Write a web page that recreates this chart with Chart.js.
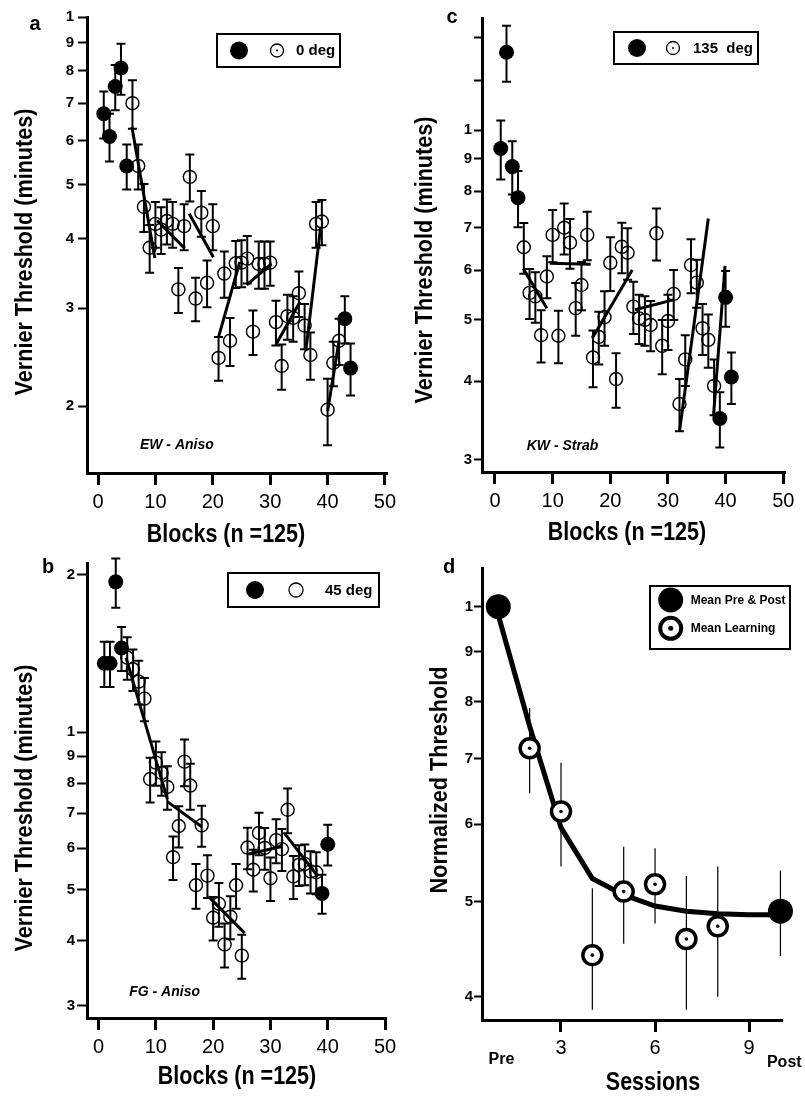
<!DOCTYPE html>
<html><head><meta charset="utf-8">
<script src="https://cdn.jsdelivr.net/npm/chart.js@4.4.1/dist/chart.umd.min.js"></script>
<style>
html,body{margin:0;padding:0;background:#fff;}
#wrap{position:relative;width:805px;height:1096px;background:#fff;}
.p{position:absolute;}
canvas{display:block;}
</style></head><body>
<div id="wrap">
<div class="p" style="left:0;top:0;width:402px;height:550px"><canvas id="ca" width="402" height="550"></canvas></div>
<div class="p" style="left:402px;top:0;width:403px;height:550px"><canvas id="cc" width="403" height="550"></canvas></div>
<div class="p" style="left:0;top:550px;width:402px;height:546px"><canvas id="cb" width="402" height="546"></canvas></div>
<div class="p" style="left:402px;top:550px;width:403px;height:546px"><canvas id="cd" width="403" height="546"></canvas></div>
</div>
<script>
// ---------- DATA ----------
const blockTicks = [0, 10, 20, 30, 40, 50];
const blocksTitle = 'Blocks (n =125)';
const threshTitle = 'Vernier Threshold (minutes)';

// Panel a (EW - Aniso, 0 deg)
const aTickVals   = [2, 3, 4, 5, 6, 7, 8, 9, 10];
const aTickLabels = ['2','3','4','5','6','7','8','9','1'];
const aFilledX   = [1, 2, 3, 4, 5, 43, 44];
const aFilledY   = [6.7, 6.1, 7.5, 8.1, 5.4, 2.87, 2.34];
const aFilledErr = [0.65, 0.6, 0.7, 0.85, 0.5, 0.28, 0.25];
const aOpenX = [6,7,8,9,10,11,12,13,14,15,16,17,18,19,20,21,22,23,24,25,26,27,28,29,30,31,32,33,34,35,36,37,38,39,40,41,42];
const aOpenY = [7.0,5.4,4.56,3.85,4.25,4.15,4.3,4.25,3.24,4.21,5.16,3.12,4.45,3.33,4.21,2.44,3.46,2.62,3.61,3.62,3.68,2.72,3.6,3.6,3.62,2.83,2.36,2.9,2.88,3.19,2.79,2.47,4.25,4.29,1.97,2.39,2.62];
const aOpenErr = [0.7,0.5,0.45,0.38,0.4,0.4,0.4,0.4,0.3,0.4,0.5,0.28,0.42,0.32,0.4,0.22,0.33,0.26,0.35,0.35,0.36,0.25,0.35,0.35,0.33,0.26,0.22,0.27,0.27,0.3,0.26,0.24,0.4,0.4,0.27,0.22,0.25];
const aFits = [[5.9,6.35,9.9,3.69],[10.3,4.31,15.1,3.84],[15.9,4.43,20.1,3.7],[21,2.66,24.7,3.63],[25.9,3.3,30.2,3.6],[31.1,2.59,35.2,3.08],[36.2,2.51,38.8,4.2],[40,1.96,42,2.62]];

// Panel c (KW - Strab, 135 deg)
const cTickVals   = [3, 4, 5, 6, 7, 8, 9, 10, 12, 14];
const cTickLabels = ['3','4','5','6','7','8','9','1','',''];
const cFilledX   = [1, 2, 3, 4, 39, 40, 41];
const cFilledY   = [9.35, 13.28, 8.75, 7.81, 3.49, 5.43, 4.06];
const cFilledErr = [1.0, 1.35, 0.85, 0.8, 0.35, 0.55, 0.38];
const cOpenX = [5,6,7,8,9,10,11,12,13,14,15,16,17,18,19,20,21,22,23,24,25,26,27,28,29,30,31,32,33,34,35,36,37,38];
const cOpenY = [6.52,5.52,5.45,4.73,5.86,6.82,4.72,7.0,6.63,5.22,5.68,6.82,4.36,4.7,5.05,6.16,4.03,6.53,6.39,5.25,5.03,5.0,4.91,6.86,4.55,4.98,5.5,3.68,4.33,6.11,5.73,4.85,4.65,3.93];
const cOpenErr = [0.6,0.5,0.5,0.45,0.45,0.65,0.45,0.65,0.6,0.5,0.5,0.6,0.45,0.45,0.5,0.6,0.4,0.6,0.6,0.5,0.45,0.45,0.45,0.65,0.45,0.5,0.5,0.35,0.4,0.6,0.5,0.45,0.45,0.4];
const cFits = [[4.9,6.03,9,5.22],[9.5,6.15,16.6,6.13],[16.9,4.68,23.8,6.0],[24.3,5.19,30.9,5.38],[32,3.33,37,7.24],[37.9,3.53,39.9,6.09]];

// Panel b (FG - Aniso, 45 deg)
const bTickVals   = [3, 4, 5, 6, 7, 8, 9, 10, 20];
const bTickLabels = ['3','4','5','6','7','8','9','1','2'];
const bFilledX   = [1, 2, 3, 4, 39, 40];
const bFilledY   = [13.56, 13.56, 19.4, 14.5, 4.92, 6.11];
const bFilledErr = [1.35, 1.35, 2.1, 1.4, 0.42, 0.55];
const bOpenX = [5,6,7,8,9,10,11,12,13,14,15,16,17,18,19,20,21,22,23,24,25,26,27,28,29,30,31,32,33,34,35,36,37,38];
const bOpenY = [13.9,13.2,12.5,11.6,8.14,8.75,8.36,7.86,5.77,6.62,8.79,7.91,5.1,6.64,5.32,4.42,4.7,3.93,4.44,5.1,3.74,6.02,5.46,6.42,6.01,5.26,6.22,5.98,7.11,5.3,5.58,5.6,5.42,5.4];
const bOpenErr = [1.3,1.2,1.2,1.1,0.8,0.85,0.8,0.75,0.55,0.6,0.9,0.8,0.5,0.6,0.5,0.42,0.45,0.38,0.42,0.5,0.36,0.55,0.5,0.6,0.55,0.5,0.6,0.55,0.7,0.5,0.5,0.5,0.5,0.5];
const bFits = [[4.8,13.9,12,7.45],[12,7.37,18,6.6],[19.2,4.85,25.5,4.13],[26.2,5.85,32,6.05],[32.5,6.4,38.3,5.3]];

// Panel d (normalized, sessions)
const dTickVals   = [0.4, 0.5, 0.6, 0.7, 0.8, 0.9, 1.0];
const dTickLabels = ['4','5','6','7','8','9','1'];
const dSessionTicks = [3, 6, 9];
const dPrePostX  = [1, 10];
const dPrePostY  = [1.0, 0.489];
const dPrePostHi = [0.012, 0.049];
const dPrePostLo = [0.01, 0.049];
const dLearnX  = [2, 3, 4, 5, 6, 7, 8];
const dLearnY  = [0.717, 0.618, 0.441, 0.512, 0.521, 0.458, 0.472];
const dLearnHi = [0.071, 0.075, 0.075, 0.057, 0.046, 0.073, 0.071];
const dLearnLo = [0.072, 0.075, 0.053, 0.059, 0.046, 0.07, 0.072];
const dFitX = [1, 2, 3, 4, 5, 6, 7, 8, 9, 10];
const dFitY = [0.98, 0.755, 0.595, 0.528, 0.508, 0.495, 0.489, 0.486, 0.485, 0.485];

// ---------- HELPERS ----------
const SANS = "'Liberation Sans', Arial, sans-serif";
Chart.defaults.font.family = SANS;
Chart.defaults.color = '#000';
Chart.defaults.animation = false;

const pts = (xs, ys) => xs.map((x, i) => ({x: x, y: ys[i]}));

function fixFit(w, h) {
  return function (s) {
    if (w != null) s.width = w;
    if (h != null) s.height = h;
    s.paddingLeft = 0; s.paddingRight = 0; s.paddingTop = 0; s.paddingBottom = 0;
  };
}

function xScale(min, max, tickVals, height, tickPad, title) {
  return {
    type: 'linear', position: 'bottom', min: min, max: max,
    afterBuildTicks: s => { s.ticks = tickVals.map(v => ({value: v})); },
    afterFit: fixFit(null, height),
    border: {display: true, color: '#000', width: 3},
    grid: {display: true, drawOnChartArea: false, drawTicks: true, tickLength: 12, tickWidth: 3, tickColor: '#000'},
    ticks: {font: {family: SANS, size: 20, lineHeight: 1}, padding: tickPad, color: '#000', maxRotation: 0, autoSkip: false},
    title: {display: false, text: title}
  };
}

function yScale(min, max, tickVals, tickLabels, width, tl, tickPad, title) {
  return {
    type: 'logarithmic', position: 'left', min: min, max: max,
    afterBuildTicks: s => { s.ticks = tickVals.map(v => ({value: v})); },
    afterFit: fixFit(width, null),
    border: {display: true, color: '#000', width: 3},
    grid: {display: true, drawOnChartArea: false, drawTicks: true, tickLength: tl, tickWidth: 2, tickColor: '#000'},
    ticks: {font: {family: SANS, size: 15, weight: 'bold', lineHeight: 1}, padding: tickPad, color: '#000', autoSkip: false,
      callback: v => { const k = tickVals.findIndex(t => Math.abs(t - v) < 1e-9); return k >= 0 ? tickLabels[k] : ''; }},
    title: {display: false, text: title}
  };
}

function fitSets(fits, width) {
  return fits.map(s => ({data: [{x: s[0], y: s[1]}, {x: s[2], y: s[3]}], showLine: true, borderColor: '#000', borderWidth: width, pointRadius: 0, clip: false}));
}

const errorBarsPlugin = {
  id: 'errorBars',
  beforeDatasetsDraw(chart) {
    const ctx = chart.ctx, xs = chart.scales.x, ys = chart.scales.y;
    ctx.save();
    chart.data.datasets.forEach(ds => {
      if (!ds.errHi) return;
      ctx.strokeStyle = '#000'; ctx.lineWidth = ds.errWidth || 2; ctx.lineCap = 'butt';
      ds.data.forEach((p, j) => {
        const px = xs.getPixelForValue(p.x);
        const yT = ys.getPixelForValue(p.y + ds.errHi[j]);
        const yB = ys.getPixelForValue(p.y - ds.errLo[j]);
        ctx.beginPath();
        ctx.moveTo(px, yT); ctx.lineTo(px, yB);
        if (ds.errCap) {
          ctx.moveTo(px - ds.errCap, yT); ctx.lineTo(px + ds.errCap, yT);
          ctx.moveTo(px - ds.errCap, yB); ctx.lineTo(px + ds.errCap, yB);
        }
        ctx.stroke();
      });
    });
    ctx.restore();
  }
};

// axis titles (condensed bold, drawn from each scale's title text) + panel decorations
const decoPlugin = {
  id: 'deco',
  afterDraw(chart, args, o) {
    if (!o) return;
    const ctx = chart.ctx, xs = chart.scales.x, ys = chart.scales.y;
    ctx.save();
    ctx.fillStyle = '#000'; ctx.strokeStyle = '#000';
    const drawTitle = (text, t, rot) => {
      ctx.save();
      ctx.translate(t.x, t.y);
      if (rot) ctx.rotate(-Math.PI / 2);
      ctx.scale(t.sx, 1);
      ctx.font = 'bold ' + t.size + 'px ' + SANS; ctx.textAlign = 'center'; ctx.textBaseline = 'middle';
      ctx.fillText(text, 0, 0);
      ctx.restore();
    };
    if (o.xTitle) drawTitle(xs.options.title.text, o.xTitle, false);
    if (o.yTitle) drawTitle(ys.options.title.text, o.yTitle, true);
    if (o.letter) {
      ctx.font = 'bold 20px ' + SANS; ctx.textAlign = 'center'; ctx.textBaseline = 'middle';
      ctx.fillText(o.letter.text, o.letter.x, o.letter.y);
    }
    if (o.subject) {
      ctx.font = 'italic bold 14px ' + SANS; ctx.textAlign = 'left'; ctx.textBaseline = 'middle';
      ctx.fillText(o.subject.text, xs.getPixelForValue(o.subject.x), ys.getPixelForValue(o.subject.y));
    }
    if (o.legend) {
      const L = o.legend;
      ctx.lineWidth = 2;
      ctx.strokeRect(L.box[0], L.box[1], L.box[2] - L.box[0], L.box[3] - L.box[1]);
      L.marks.forEach(m => {
        ctx.beginPath(); ctx.arc(m.x, m.y, m.r, 0, 2 * Math.PI);
        if (m.fill) { ctx.fillStyle = '#000'; ctx.fill(); }
        else { ctx.fillStyle = '#fff'; ctx.fill(); ctx.lineWidth = m.lw; ctx.stroke(); ctx.fillStyle = '#000'; }
        if (m.dot) { ctx.beginPath(); ctx.arc(m.x, m.y, m.dot, 0, 2 * Math.PI); ctx.fill(); }
      });
      L.texts.forEach(t => {
        ctx.font = t.font; ctx.textAlign = 'left'; ctx.textBaseline = 'middle';
        ctx.fillText(t.text, t.x, t.y);
      });
    }
    if (o.axisNotes) {
      o.axisNotes.forEach(n => {
        ctx.font = n.font; ctx.textAlign = n.align; ctx.textBaseline = 'middle';
        ctx.fillText(n.text, xs.getPixelForValue(n.x), chart.chartArea.bottom + n.dy);
      });
    }
    ctx.restore();
  }
};
Chart.register(errorBarsPlugin, decoPlugin);

function blockChart(id, cfg) {
  const datasets = [].concat(
    [{data: pts(cfg.fx, cfg.fy), errHi: cfg.fe, errLo: cfg.fe, errCap: 4.5, errWidth: 2,
      pointRadius: 7.5, pointBackgroundColor: '#000', pointBorderColor: '#000', pointBorderWidth: 0, clip: false}],
    [{data: pts(cfg.ox, cfg.oy), errHi: cfg.oe, errLo: cfg.oe, errCap: 4.5, errWidth: 2,
      pointRadius: 6.5, pointBackgroundColor: 'rgba(0,0,0,0)', pointBorderColor: '#000', pointBorderWidth: 1.4, clip: false}],
    fitSets(cfg.fits, 3)
  );
  return new Chart(document.getElementById(id), {
    type: 'scatter',
    data: {datasets: datasets},
    options: {
      responsive: false, animation: false, events: [],
      layout: {padding: cfg.pad},
      scales: {
        x: xScale(cfg.xmin, cfg.xmax, blockTicks, cfg.xh, cfg.xtp, blocksTitle),
        y: yScale(cfg.ymin, cfg.ymax, cfg.tv, cfg.tl, cfg.yw, cfg.ytl, cfg.ytp, threshTitle)
      },
      plugins: {legend: {display: false}, tooltip: {enabled: false}, deco: cfg.deco}
    }
  });
}

// Panel a
blockChart('ca', {
  fx: aFilledX, fy: aFilledY, fe: aFilledErr, ox: aOpenX, oy: aOpenY, oe: aOpenErr, fits: aFits,
  pad: {left: 0, top: 17, right: 15, bottom: 0},
  xmin: -1.92, xmax: 50.35, xh: 77, xtp: 7,
  ymin: 1.516, ymax: 10, tv: aTickVals, tl: aTickLabels, yw: 87, ytl: 9, ytp: 4,
  deco: {
    xTitle: {x: 226, y: 535, size: 25, sx: 0.86},
    yTitle: {x: 25, y: 252, size: 24, sx: 0.9},
    letter: {text: 'a', x: 35, y: 24},
    subject: {text: 'EW - Aniso', x: 7.3, y: 1.70},
    legend: {box: [217, 34, 340, 67],
      marks: [{fill: true, x: 239, y: 50.5, r: 9}, {fill: false, x: 277, y: 50.5, r: 6.5, lw: 1.3, dot: 1}],
      texts: [{text: '0 deg', x: 296, y: 51, font: 'bold 15px ' + SANS}]}
  }
});

// Panel c
blockChart('cc', {
  fx: cFilledX, fy: cFilledY, fe: cFilledErr, ox: cOpenX, oy: cOpenY, oe: cOpenErr, fits: cFits,
  pad: {left: 0, top: 18, right: 20, bottom: 0},
  xmin: -2.25, xmax: 50.3, xh: 78, xtp: 7.7,
  ymin: 2.871, ymax: 15.05, tv: cTickVals, tl: cTickLabels, yw: 80, ytl: 8, ytp: 2,
  deco: {
    xTitle: {x: 225, y: 533, size: 25, sx: 0.86},
    yTitle: {x: 23, y: 260, size: 24, sx: 0.9},
    letter: {text: 'c', x: 50, y: 17},
    subject: {text: 'KW - Strab', x: 5.5, y: 3.15},
    legend: {box: [212, 32, 356, 64],
      marks: [{fill: true, x: 235, y: 48, r: 9}, {fill: false, x: 271, y: 48, r: 6.5, lw: 1.3, dot: 1}],
      texts: [{text: '135  deg', x: 291, y: 48.5, font: 'bold 15px ' + SANS}]}
  }
});

// Panel b
blockChart('cb', {
  fx: bFilledX, fy: bFilledY, fe: bFilledErr, ox: bOpenX, oy: bOpenY, oe: bOpenErr, fits: bFits,
  pad: {left: 0, top: 13, right: 16, bottom: 0},
  xmin: -2.02, xmax: 50.17, xh: 78, xtp: 7.7,
  ymin: 2.842, ymax: 21.08, tv: bTickVals, tl: bTickLabels, yw: 87, ytl: 10, ytp: 2,
  deco: {
    xTitle: {x: 237, y: 527, size: 25, sx: 0.86},
    yTitle: {x: 25, y: 258, size: 24, sx: 0.9},
    letter: {text: 'b', x: 48, y: 17},
    subject: {text: 'FG - Aniso', x: 5.35, y: 3.18},
    legend: {box: [228, 23, 379, 57],
      marks: [{fill: true, x: 255, y: 40, r: 9}, {fill: false, x: 296, y: 40, r: 7, lw: 1.3}],
      texts: [{text: '45 deg', x: 325, y: 40.5, font: 'bold 15px ' + SANS}]}
  }
});

// Panel d
new Chart(document.getElementById('cd'), {
  type: 'scatter',
  data: {datasets: [
    {data: pts(dLearnX, dLearnY), pointRadius: 1.8, pointBackgroundColor: '#000', pointBorderWidth: 0, clip: false},
    {data: pts(dLearnX, dLearnY), errHi: dLearnHi, errLo: dLearnLo, errCap: 0, errWidth: 1.2,
      pointRadius: 9.5, pointBackgroundColor: '#fff', pointBorderColor: '#000', pointBorderWidth: 3.5, clip: false},
    {data: pts(dPrePostX, dPrePostY), errHi: dPrePostHi, errLo: dPrePostLo, errCap: 0, errWidth: 1.2,
      pointRadius: 12.5, pointBackgroundColor: '#000', pointBorderColor: '#000', pointBorderWidth: 0, clip: false},
    {data: pts(dFitX, dFitY), showLine: true, borderColor: '#000', borderWidth: 5, pointRadius: 0, tension: 0, clip: false}
  ]},
  options: {
    responsive: false, animation: false, events: [],
    layout: {padding: {left: 0, top: 18, right: 23, bottom: 0}},
    scales: {
      x: xScale(0.48, 10.05, dSessionTicks, 76, 6, 'Sessions'),
      y: yScale(0.3787, 1.095, dTickVals, dTickLabels, 80, 8, 1, 'Normalized Threshold')
    },
    plugins: {legend: {display: false}, tooltip: {enabled: false},
      deco: {
        xTitle: {x: 251, y: 533, size: 25, sx: 0.86},
        yTitle: {x: 38, y: 230, size: 24, sx: 0.9},
        letter: {text: 'd', x: 47, y: 17},
        legend: {box: [248, 36, 388, 99],
          marks: [{fill: true, x: 268.7, y: 50, r: 12.5}, {fill: false, x: 268.7, y: 78.3, r: 10.5, lw: 4, dot: 2.5}],
          texts: [{text: 'Mean Pre & Post', x: 288.7, y: 51, font: 'bold 12px ' + SANS},
                  {text: 'Mean Learning', x: 288.7, y: 79, font: 'bold 12px ' + SANS}]},
        axisNotes: [{text: 'Pre', x: 1.1, dy: 40, align: 'center', font: 'bold 16px ' + SANS},
                    {text: 'Post', x: 9.57, dy: 43, align: 'left', font: 'bold 16px ' + SANS}]
      }}
  }
});
</script>
</body></html>
